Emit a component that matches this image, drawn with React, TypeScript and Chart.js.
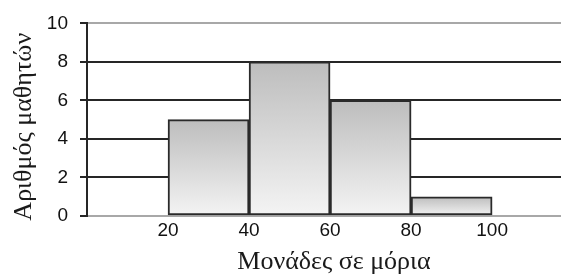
import React, { useEffect, useRef } from "react";
import { Chart, registerables } from "chart.js";

Chart.register(...registerables);

const binStarts = [20, 40, 60, 80];
const binEnds = [40, 60, 80, 100];
const counts = [5, 8, 6, 1];
const xTickValues = [20, 40, 60, 80, 100];
const yTickValues = [0, 2, 4, 6, 8, 10];
const xTitle = "Μονάδες σε μόρια";
const yTitle = "Αριθμός μαθητών";

const titleFont = "26px 'Liberation Serif', 'Times New Roman', serif";

const axisTitles = {
  id: "axisTitles",
  afterDraw(chart: any) {
    const { ctx, chartArea } = chart;
    ctx.save();
    ctx.fillStyle = "#1a1a1a";
    ctx.font = titleFont;
    ctx.textAlign = "center";
    ctx.textBaseline = "middle";
    ctx.fillText(xTitle, (chartArea.left + chartArea.right) / 2 + 10, chart.height - 15);
    ctx.translate(24, (chartArea.top + chartArea.bottom) / 2 + 7);
    ctx.rotate(-Math.PI / 2);
    ctx.fillText(yTitle, 0, 0);
    ctx.restore();
  },
};

export default function App() {
  const ref = useRef<HTMLCanvasElement | null>(null);
  useEffect(() => {
    if (!ref.current) return;
    const data = binStarts.map((s, i) => ({ x: (s + binEnds[i]) / 2, y: counts[i] }));
    const chart = new Chart(ref.current, {
      type: "bar",
      data: {
        datasets: [
          {
            data: data as any,
            barPercentage: 1,
            categoryPercentage: 1,
            borderColor: "#2a2a2a",
            borderWidth: 2,
            borderSkipped: false,
            backgroundColor: (ctx: any) => {
              const chart = ctx.chart;
              const raw = ctx.raw;
              if (!chart.chartArea || !raw || !chart.scales.y) return "#d8d8d8";
              const ys = chart.scales.y;
              const top = ys.getPixelForValue(raw.y);
              const bottom = ys.getPixelForValue(0);
              const g = chart.ctx.createLinearGradient(0, top, 0, bottom);
              g.addColorStop(0, "#bdbdbd");
              g.addColorStop(1, "#f4f4f4");
              return g;
            },
          },
        ],
      },
      options: {
        responsive: false,
        animation: false,
        layout: { padding: { top: 21, left: 0, right: 0, bottom: 0 } },
        plugins: { legend: { display: false }, tooltip: { enabled: false } },
        scales: {
          x: {
            type: "linear",
            offset: false,
            min: 0,
            max: 117,
            grid: { display: false, drawTicks: false, offset: false },
            border: { display: true, color: "#a8a8a8", width: 2 },
            afterBuildTicks: (scale: any) => {
              scale.ticks = xTickValues.map((v) => ({ value: v }));
            },
            afterFit: (scale: any) => {
              scale.height = 61;
            },
            ticks: {
              autoSkip: false,
              maxRotation: 0,
              padding: 3,
              color: "#111",
              font: { family: "'Liberation Sans', Arial, sans-serif", size: 19 },
            },
          },
          y: {
            min: 0,
            max: 10,
            afterBuildTicks: (scale: any) => {
              scale.ticks = yTickValues.map((v) => ({ value: v }));
            },
            afterFit: (scale: any) => {
              scale.width = 87;
            },
            grid: {
              color: (ctx: any) =>
                ctx.tick && (ctx.tick.value === 10 || ctx.tick.value === 0) ? "#a8a8a8" : "#262626",
              tickColor: "#262626",
              lineWidth: 2,
              tickLength: 7,
              drawTicks: true,
            },
            border: { display: true, color: "#262626", width: 2 },
            ticks: {
              padding: 12,
              color: "#111",
              font: { family: "'Liberation Sans', Arial, sans-serif", size: 19 },
            },
          },
        },
      },
      plugins: [axisTitles],
    });
    return () => chart.destroy();
  }, []);
  return (
    <div style={{ position: "absolute", left: 0, top: 0, width: 561, height: 277, background: "#fff" }}>
      <canvas ref={ref} width={561} height={277} style={{ display: "block" }} />
    </div>
  );
}
